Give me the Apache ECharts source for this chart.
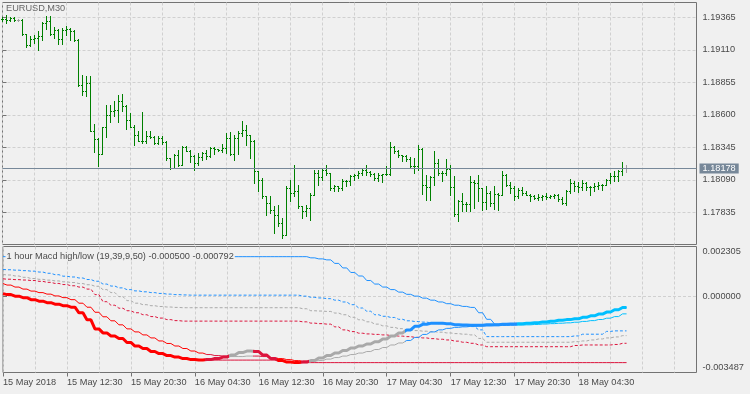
<!DOCTYPE html>
<html><head><meta charset="utf-8">
<script src="https://cdn.jsdelivr.net/npm/echarts@6/dist/echarts.min.js"></script>
<style>html,body{margin:0;padding:0;background:#f0f0f0;}#c{width:750px;height:394px;}</style>
</head><body><div id="c"></div>
<script>
const symbolName = 'EURUSD,M30';
const indicatorName = '1 hour Macd high/low (19,39,9,50)';

const barOpen = [1.19347,1.19349,1.19339,1.19355,1.19344,1.19344,1.19231,1.19142,1.19195,1.19200,
 1.19213,1.19318,1.19331,1.19231,1.19266,1.19190,1.19266,1.19273,1.19258,1.19187,
 1.18833,1.18786,1.18846,1.18472,1.18409,1.18291,1.18498,1.18597,1.18624,1.18637,
 1.18702,1.18668,1.18558,1.18500,1.18440,1.18393,1.18388,1.18427,1.18425,1.18375,
 1.18414,1.18383,1.18257,1.18178,1.18278,1.18204,1.18346,1.18314,1.18270,1.18218,
 1.18262,1.18296,1.18270,1.18335,1.18328,1.18320,1.18335,1.18414,1.18288,1.18414,
 1.18453,1.18480,1.18435,1.18393,1.18152,1.18087,1.17956,1.17903,1.17851,1.17811,
 1.17746,1.17654,1.18021,1.17982,1.17995,1.17877,1.17838,1.17864,1.17969,1.18139,
 1.18105,1.18165,1.18139,1.18021,1.18034,1.18021,1.18079,1.18073,1.18113,1.18126,
 1.18139,1.18165,1.18147,1.18131,1.18100,1.18121,1.18131,1.18128,1.18341,1.18309,
 1.18278,1.18275,1.18252,1.18191,1.18195,1.18330,1.18047,1.18026,1.18105,1.18218,
 1.18139,1.18142,1.18173,1.18026,1.17817,1.17916,1.17895,1.17898,1.18068,1.18060,
 1.18021,1.17911,1.17982,1.17903,1.17974,1.17969,1.18126,1.18047,1.18021,1.17956,
 1.18008,1.17982,1.17969,1.17956,1.17942,1.17948,1.17956,1.17948,1.17956,1.17969,
 1.17937,1.17903,1.17995,1.18060,1.18034,1.18026,1.18060,1.18026,1.18029,1.18034,
 1.18047,1.18044,1.18087,1.18113,1.18116,1.18157,1.18178];
const barHigh = [1.19368,1.19378,1.19368,1.19362,1.19347,1.19346,1.19235,1.19213,1.19221,1.19258,
 1.19326,1.19373,1.19376,1.19284,1.19270,1.19279,1.19292,1.19279,1.19260,1.19190,
 1.18912,1.18904,1.18904,1.18524,1.18414,1.18498,1.18676,1.18671,1.18707,1.18749,
 1.18760,1.18676,1.18611,1.18519,1.18472,1.18618,1.18472,1.18472,1.18427,1.18427,
 1.18427,1.18393,1.18260,1.18288,1.18322,1.18351,1.18350,1.18317,1.18278,1.18299,
 1.18307,1.18320,1.18343,1.18340,1.18330,1.18367,1.18453,1.18459,1.18440,1.18466,
 1.18550,1.18519,1.18440,1.18395,1.18155,1.18100,1.17960,1.17956,1.17877,1.17890,
 1.17785,1.18034,1.18087,1.18204,1.18047,1.17880,1.17890,1.17982,1.18165,1.18165,
 1.18178,1.18204,1.18142,1.18047,1.18040,1.18094,1.18087,1.18126,1.18131,1.18152,
 1.18173,1.18204,1.18152,1.18139,1.18139,1.18131,1.18191,1.18380,1.18349,1.18322,
 1.18283,1.18282,1.18262,1.18257,1.18362,1.18335,1.18126,1.18113,1.18314,1.18252,
 1.18157,1.18252,1.18199,1.18113,1.17929,1.17982,1.17908,1.18113,1.18087,1.18121,
 1.18025,1.18034,1.17995,1.18034,1.17982,1.18152,1.18130,1.18068,1.18034,1.18021,
 1.18026,1.17995,1.17974,1.17963,1.17974,1.17963,1.17982,1.17963,1.17974,1.17974,
 1.17948,1.18008,1.18092,1.18079,1.18068,1.18081,1.18065,1.18034,1.18060,1.18068,
 1.18050,1.18094,1.18139,1.18157,1.18160,1.18225,1.18199];
const barLow = [1.19331,1.19318,1.19331,1.19334,1.19331,1.19226,1.19127,1.19135,1.19161,1.19103,
 1.19187,1.19273,1.19226,1.19200,1.19153,1.19153,1.19226,1.19187,1.19179,1.18820,
 1.18755,1.18742,1.18466,1.18301,1.18197,1.18288,1.18419,1.18537,1.18584,1.18540,
 1.18629,1.18487,1.18498,1.18362,1.18388,1.18375,1.18375,1.18414,1.18367,1.18370,
 1.18367,1.18244,1.18170,1.18175,1.18191,1.18200,1.18309,1.18223,1.18160,1.18204,
 1.18244,1.18252,1.18265,1.18291,1.18309,1.18304,1.18296,1.18278,1.18244,1.18291,
 1.18427,1.18362,1.18257,1.18060,1.17995,1.17942,1.17811,1.17825,1.17667,1.17720,
 1.17628,1.17650,1.17916,1.17956,1.17864,1.17785,1.17798,1.17772,1.17963,1.18047,
 1.18087,1.18126,1.18008,1.17995,1.18000,1.18008,1.18034,1.18047,1.18087,1.18100,
 1.18121,1.18126,1.18113,1.18081,1.18079,1.18068,1.18121,1.18121,1.18296,1.18262,
 1.18231,1.18236,1.18178,1.18139,1.18165,1.17974,1.17929,1.17924,1.18042,1.18121,
 1.18073,1.18121,1.17969,1.17798,1.17759,1.17843,1.17838,1.17838,1.17864,1.17916,
 1.17851,1.17859,1.17877,1.17859,1.17851,1.17963,1.18034,1.17982,1.17929,1.17942,
 1.17963,1.17963,1.17921,1.17937,1.17929,1.17929,1.17937,1.17945,1.17942,1.17921,
 1.17895,1.17890,1.17982,1.17995,1.17990,1.18003,1.18008,1.17969,1.18000,1.18013,
 1.18008,1.18042,1.18060,1.18073,1.18073,1.18126,1.18147];
const barClose = [1.19349,1.19339,1.19355,1.19344,1.19344,1.19231,1.19142,1.19195,1.19200,1.19213,
 1.19318,1.19331,1.19231,1.19266,1.19190,1.19266,1.19273,1.19258,1.19187,1.18833,
 1.18786,1.18846,1.18472,1.18409,1.18291,1.18498,1.18597,1.18624,1.18637,1.18702,
 1.18668,1.18558,1.18500,1.18440,1.18393,1.18388,1.18427,1.18425,1.18375,1.18414,
 1.18383,1.18257,1.18178,1.18278,1.18204,1.18346,1.18314,1.18270,1.18218,1.18262,
 1.18296,1.18270,1.18335,1.18328,1.18320,1.18335,1.18414,1.18288,1.18414,1.18453,
 1.18480,1.18435,1.18393,1.18152,1.18087,1.17956,1.17903,1.17851,1.17811,1.17746,
 1.17654,1.18021,1.17982,1.17995,1.17877,1.17838,1.17864,1.17969,1.18139,1.18105,
 1.18165,1.18139,1.18021,1.18034,1.18021,1.18079,1.18073,1.18113,1.18126,1.18139,
 1.18165,1.18147,1.18131,1.18100,1.18121,1.18131,1.18128,1.18341,1.18309,1.18278,
 1.18275,1.18252,1.18191,1.18195,1.18330,1.18047,1.18026,1.18105,1.18218,1.18139,
 1.18142,1.18173,1.18026,1.17817,1.17916,1.17895,1.17898,1.18068,1.18060,1.18021,
 1.17911,1.17982,1.17903,1.17974,1.17969,1.18126,1.18047,1.18021,1.17956,1.18008,
 1.17982,1.17969,1.17956,1.17942,1.17948,1.17956,1.17948,1.17956,1.17969,1.17937,
 1.17903,1.17995,1.18060,1.18034,1.18026,1.18060,1.18026,1.18029,1.18034,1.18047,
 1.18044,1.18087,1.18113,1.18116,1.18157,1.18178,1.18178];

const lastPrice = 1.18178;
const priceTicks = [1.17835, 1.18090, 1.18345, 1.18600, 1.18855, 1.19110, 1.19365];
const timeLabels = ['15 May 2018','15 May 12:30','15 May 20:30','16 May 04:30','16 May 12:30',
  '16 May 20:30','17 May 04:30','17 May 12:30','17 May 20:30','18 May 04:30'];
const macdTicks = [-0.003487, 0, 0.002305];

// 1-hour indicator values (one per hour, each spans two M30 bars)
const macdHourly = [139e-6,93e-6,23e-6,-46e-6,-139e-6,-208e-6,-278e-6,-347e-6,-417e-6,-486e-6,
 -741e-6,-1065e-6,-1482e-6,-1667e-6,-1806e-6,-1921e-6,-2107e-6,-2269e-6,-2384e-6,-2523e-6,
 -2616e-6,-2709e-6,-2778e-6,-2847e-6,-2894e-6,-2917e-6,-2894e-6,-2847e-6,-2778e-6,-2685e-6,
 -2570e-6,-2500e-6,-2523e-6,-2685e-6,-2847e-6,-2940e-6,-3010e-6,-3033e-6,-3010e-6,-2940e-6,
 -2824e-6,-2709e-6,-2593e-6,-2477e-6,-2361e-6,-2269e-6,-2176e-6,-2070e-6,-1945e-6,-1806e-6,
 -1667e-6,-1528e-6,-1366e-6,-1273e-6,-1227e-6,-1218e-6,-1250e-6,-1287e-6,-1306e-6,-1320e-6,
 -1310e-6,-1296e-6,-1287e-6,-1273e-6,-1259e-6,-1250e-6,-1227e-6,-1195e-6,-1167e-6,-1134e-6,
 -1088e-6,-1056e-6,-1019e-6,-949e-6,-880e-6,-801e-6,-708e-6,-602e-6,-500e-6];
const signalHourly = [602e-6,532e-6,440e-6,347e-6,255e-6,185e-6,116e-6,32e-6,-46e-6,-139e-6,
 -301e-6,-486e-6,-718e-6,-926e-6,-1111e-6,-1296e-6,-1482e-6,-1621e-6,-1759e-6,-1898e-6,
 -2037e-6,-2153e-6,-2269e-6,-2384e-6,-2500e-6,-2593e-6,-2662e-6,-2709e-6,-2732e-6,-2755e-6,
 -2755e-6,-2732e-6,-2732e-6,-2755e-6,-2801e-6,-2847e-6,-2894e-6,-2940e-6,-2963e-6,-2963e-6,
 -2940e-6,-2871e-6,-2801e-6,-2732e-6,-2662e-6,-2593e-6,-2523e-6,-2431e-6,-2338e-6,-2222e-6,
 -2130e-6,-2014e-6,-1875e-6,-1736e-6,-1621e-6,-1528e-6,-1458e-6,-1412e-6,-1389e-6,-1366e-6,
 -1352e-6,-1343e-6,-1333e-6,-1324e-6,-1315e-6,-1306e-6,-1296e-6,-1278e-6,-1259e-6,-1241e-6,
 -1222e-6,-1204e-6,-1176e-6,-1139e-6,-1102e-6,-1051e-6,-991e-6,-917e-6,-792e-6];
const highestHourly = [1838e-6,1838e-6,1838e-6,1838e-6,1838e-6,1838e-6,1838e-6,1838e-6,1838e-6,1838e-6,
 1838e-6,1838e-6,1838e-6,1838e-6,1838e-6,1838e-6,1838e-6,1838e-6,1838e-6,1838e-6,
 1838e-6,1838e-6,1838e-6,1838e-6,1838e-6,1838e-6,1838e-6,1838e-6,1838e-6,1838e-6,
 1838e-6,1838e-6,1838e-6,1838e-6,1838e-6,1838e-6,1838e-6,1838e-6,1838e-6,1783e-6,
 1736e-6,1690e-6,1528e-6,1320e-6,1111e-6,949e-6,741e-6,579e-6,440e-6,324e-6,
 208e-6,106e-6,23e-6,-69e-6,-162e-6,-245e-6,-324e-6,-394e-6,-449e-6,-495e-6,
 -741e-6,-1042e-6,-1265e-6,-1273e-6,-1259e-6,-1250e-6,-1227e-6,-1195e-6,-1167e-6,-1134e-6,
 -1088e-6,-1056e-6,-1019e-6,-949e-6,-880e-6,-801e-6,-708e-6,-602e-6,-500e-6];
const lowestHourly = [139e-6,93e-6,23e-6,-46e-6,-139e-6,-208e-6,-278e-6,-347e-6,-417e-6,-486e-6,
 -741e-6,-1065e-6,-1482e-6,-1667e-6,-1806e-6,-1921e-6,-2107e-6,-2269e-6,-2384e-6,-2523e-6,
 -2616e-6,-2709e-6,-2778e-6,-2847e-6,-2894e-6,-2917e-6,-2917e-6,-2917e-6,-2917e-6,-2917e-6,
 -2917e-6,-2917e-6,-2917e-6,-2917e-6,-2917e-6,-2917e-6,-3010e-6,-3033e-6,-3033e-6,-3033e-6,
 -3033e-6,-3033e-6,-3033e-6,-3033e-6,-3033e-6,-3033e-6,-3033e-6,-3033e-6,-3033e-6,-3033e-6,
 -3033e-6,-3033e-6,-3033e-6,-3033e-6,-3033e-6,-3033e-6,-3033e-6,-3033e-6,-3033e-6,-3033e-6,
 -3033e-6,-3033e-6,-3033e-6,-3033e-6,-3033e-6,-3033e-6,-3033e-6,-3033e-6,-3033e-6,-3033e-6,
 -3033e-6,-3033e-6,-3033e-6,-3033e-6,-3033e-6,-3033e-6,-3033e-6,-3033e-6,-3033e-6];
const levelUpperHourly = [1250e-6,1236e-6,1218e-6,1195e-6,1171e-6,1130e-6,1074e-6,1009e-6,940e-6,903e-6,
 857e-6,787e-6,708e-6,579e-6,486e-6,403e-6,324e-6,264e-6,222e-6,185e-6,
 148e-6,116e-6,93e-6,79e-6,69e-6,69e-6,69e-6,69e-6,69e-6,69e-6,
 69e-6,69e-6,69e-6,69e-6,69e-6,69e-6,69e-6,69e-6,23e-6,-32e-6,
 -60e-6,-93e-6,-162e-6,-245e-6,-370e-6,-523e-6,-671e-6,-833e-6,-903e-6,-958e-6,
 -1042e-6,-1111e-6,-1144e-6,-1171e-6,-1204e-6,-1241e-6,-1273e-6,-1306e-6,-1343e-6,-1375e-6,
 -1528e-6,-1838e-6,-1838e-6,-1838e-6,-1838e-6,-1838e-6,-1838e-6,-1838e-6,-1838e-6,-1838e-6,
 -1838e-6,-1838e-6,-1806e-6,-1727e-6,-1727e-6,-1727e-6,-1597e-6,-1574e-6,-1574e-6];
const levelMiddleHourly = [1019e-6,995e-6,949e-6,889e-6,833e-6,796e-6,759e-6,722e-6,681e-6,648e-6,
 602e-6,546e-6,477e-6,324e-6,185e-6,0,-185e-6,-301e-6,-370e-6,-417e-6,
 -454e-6,-477e-6,-495e-6,-509e-6,-509e-6,-509e-6,-509e-6,-509e-6,-509e-6,-509e-6,
 -509e-6,-509e-6,-509e-6,-509e-6,-509e-6,-509e-6,-509e-6,-509e-6,-556e-6,-648e-6,
 -662e-6,-681e-6,-755e-6,-833e-6,-949e-6,-1065e-6,-1158e-6,-1264e-6,-1343e-6,-1412e-6,
 -1472e-6,-1528e-6,-1560e-6,-1588e-6,-1611e-6,-1634e-6,-1667e-6,-1699e-6,-1727e-6,-1759e-6,
 -1921e-6,-2097e-6,-2097e-6,-2097e-6,-2097e-6,-2097e-6,-2097e-6,-2097e-6,-2097e-6,-2097e-6,
 -2097e-6,-2097e-6,-2070e-6,-2037e-6,-1991e-6,-1945e-6,-1898e-6,-1852e-6,-1792e-6];
const levelLowerHourly = [820e-6,801e-6,782e-6,764e-6,741e-6,704e-6,657e-6,607e-6,556e-6,500e-6,
 440e-6,347e-6,93e-6,-232e-6,-394e-6,-532e-6,-648e-6,-741e-6,-833e-6,-917e-6,
 -986e-6,-1056e-6,-1102e-6,-1125e-6,-1125e-6,-1125e-6,-1125e-6,-1125e-6,-1125e-6,-1125e-6,
 -1125e-6,-1125e-6,-1125e-6,-1125e-6,-1125e-6,-1125e-6,-1125e-6,-1125e-6,-1158e-6,-1218e-6,
 -1241e-6,-1264e-6,-1389e-6,-1528e-6,-1607e-6,-1681e-6,-1713e-6,-1736e-6,-1759e-6,-1787e-6,
 -1815e-6,-1838e-6,-1871e-6,-1898e-6,-1931e-6,-1958e-6,-1991e-6,-2046e-6,-2097e-6,-2144e-6,
 -2222e-6,-2301e-6,-2301e-6,-2301e-6,-2301e-6,-2301e-6,-2301e-6,-2301e-6,-2301e-6,-2301e-6,
 -2301e-6,-2301e-6,-2246e-6,-2222e-6,-2222e-6,-2222e-6,-2222e-6,-2199e-6,-2144e-6];
// MACD colour state per hour
const macdState = [0,0,0,0,0,0,0,0,0,0, 0,0,0,0,0,0,0,0,0,0, 0,0,0,0,0,0,1,1,1,2,
 2,2,1,1,1,0,0,0,1,2, 2,2,2,2,2,2,2,2,2,2, 2,3,3,3,3,3,3,3,3,3,
 3,3,3,3,3,4,4,4,4,4, 4,4,4,4,4,4,4,4,4];

const FONT = '"Liberation Sans", Arial, sans-serif';
const FS = 9.2;
const TXT = '#4a4a4a';
const FRAME = '#737373';
const GRIDC = '#d0d0d0';
const stateColors = ['#ff0000', '#dc143c', '#a9a9a9', '#1e90ff', '#00bfff'];
const N = barOpen.length;
const X_MAX = 173.5;
const P_MAX = 1.194829, P_MIN = 1.175812;

const hourOf = i => (i + 1) >> 1;
const expand = arr => barOpen.map((_, i) => [i, arr[hourOf(i)]]);

const gridLinePos = []; for (let v = 0; v <= 168; v += 8) gridLinePos.push(v);
const labelPos = timeLabels.map((_, k) => k * 16);

const pieces = [];
let runStart = 0;
for (let i = 1; i <= N; i++) {
  if (i === N || macdState[hourOf(i)] !== macdState[hourOf(runStart)]) {
    pieces.push({ gte: runStart === 0 ? -100 : runStart - 0.5, lt: i === N ? 1000 : i - 0.5,
      color: stateColors[macdState[hourOf(runStart)]] });
    runStart = i;
  }
}

const legendText = indicatorName + ' ' + macdHourly[macdHourly.length - 1].toFixed(6) + ' ' +
  signalHourly[signalHourly.length - 1].toFixed(6);

const xBase = (gi) => ({
  gridIndex: gi, type: 'value', min: 0, max: X_MAX,
  axisLine: { show: false },
  axisTick: { show: false, customValues: gridLinePos },
  axisLabel: { show: false },
  splitLine: { show: true, lineStyle: { color: GRIDC, type: [3, 2], width: 1 } }
});

const lineSeries = (arr, color, width, dashed, z) => {
  const ls = { width: width, type: dashed ? [3, 2] : 'solid' };
  if (color) ls.color = color;
  return {
    type: 'line', xAxisIndex: 1, yAxisIndex: 1, data: expand(arr),
    showSymbol: false, symbol: 'none', silent: true, z: z,
    lineStyle: ls, clip: true
  };
};

const chart = echarts.init(document.getElementById('c'), null, { renderer: 'canvas' });
const macdMax = macdTicks[2], macdMin = macdTicks[0];
const option = {
  animation: false,
  backgroundColor: '#f0f0f0',
  textStyle: { fontFamily: FONT },
  title: [
    { text: symbolName, left: 6, top: 4, padding: 0,
      textStyle: { fontSize: FS, fontWeight: 'normal', color: '#666666', fontFamily: FONT } },
    { text: legendText, left: 5.5, top: 251.5, padding: [0, 1, 0, 1], backgroundColor: '#f0f0f0',
      textStyle: { fontSize: FS, fontWeight: 'normal', color: TXT, fontFamily: FONT } }
  ],
  grid: [
    { left: 2.5, top: 2.5, width: 694, height: 242, show: true, borderColor: FRAME, borderWidth: 1, backgroundColor: 'transparent' },
    { left: 2.5, top: 246.5, width: 694, height: 126, show: true, borderColor: FRAME, borderWidth: 1, backgroundColor: 'transparent' }
  ],
  xAxis: [
    xBase(0),
    xBase(1),
    { gridIndex: 1, type: 'value', min: 0, max: X_MAX, position: 'bottom',
      axisLine: { show: false },
      axisTick: { show: true, customValues: labelPos, length: 4, lineStyle: { color: FRAME } },
      axisLabel: { show: true, customValues: labelPos, formatter: v => timeLabels[Math.round(v / 16)],
        align: 'left', margin: 5, color: TXT, fontSize: FS, fontFamily: FONT },
      splitLine: { show: false } }
  ],
  yAxis: [
    { gridIndex: 0, type: 'value', position: 'right', min: P_MIN, max: P_MAX,
      axisLine: { show: false },
      axisTick: { show: true, customValues: priceTicks, length: 4, lineStyle: { color: FRAME } },
      axisLabel: { customValues: priceTicks, formatter: v => v.toFixed(5), margin: 6,
        color: TXT, fontSize: FS, fontFamily: FONT },
      splitLine: { show: true, lineStyle: { color: GRIDC, type: [3, 2], width: 1 } } },
    { gridIndex: 1, type: 'value', position: 'right', min: macdMin, max: macdMax,
      axisLine: { show: false },
      axisTick: { show: true, customValues: [0], length: 4, lineStyle: { color: FRAME } },
      axisLabel: { customValues: macdTicks, margin: 6, color: TXT, fontSize: FS, fontFamily: FONT,
        formatter: v => {
          const s = v.toFixed(6);
          if (Math.abs(v - macdMax) < 1e-9) return '{t|' + s + '}';
          if (Math.abs(v - macdMin) < 1e-9) return '{b|' + s + '}';
          return s;
        },
        rich: {
          t: { padding: [10, 0, 0, 0], color: TXT, fontSize: FS, fontFamily: FONT },
          b: { padding: [0, 0, 10, 0], color: TXT, fontSize: FS, fontFamily: FONT }
        } },
      splitLine: { show: true, lineStyle: { color: GRIDC, type: [3, 2], width: 1 } } }
  ],
  visualMap: [{ type: 'piecewise', show: false, dimension: 0, seriesIndex: [6, 7], pieces: pieces }],
  series: [
    { type: 'custom', xAxisIndex: 0, yAxisIndex: 0, silent: true, z: 3,
      data: barOpen.map((o, i) => [i, o, barHigh[i], barLow[i], barClose[i]]),
      encode: { x: 0, y: [1, 2, 3, 4] },
      renderItem: (params, api) => {
        const i = api.value(0);
        const pO = api.coord([i, api.value(1)]);
        const pH = api.coord([i, api.value(2)]);
        const pL = api.coord([i, api.value(3)]);
        const pC = api.coord([i, api.value(4)]);
        const col = Math.floor(pO[0]);
        const color = api.value(1) === api.value(4) ? '#a0a0a0' : '#008000';
        const yH = Math.floor(pH[1]), yL = Math.floor(pL[1]);
        return { type: 'group', children: [
          { type: 'rect', shape: { x: col, y: yH, width: 1, height: yL - yH + 1 }, style: { fill: color } },
          { type: 'rect', shape: { x: col - 1, y: Math.floor(pO[1]), width: 1, height: 1 }, style: { fill: color } },
          { type: 'rect', shape: { x: col + 1, y: Math.floor(pC[1]), width: 1, height: 1 }, style: { fill: color } }
        ] };
      } },
    lineSeries(levelUpperHourly, '#1e90ff', 1, true, 2),
    lineSeries(levelMiddleHourly, '#a9a9a9', 1, true, 2),
    lineSeries(levelLowerHourly, '#dc143c', 1, true, 2),
    lineSeries(highestHourly, '#1e90ff', 1, false, 2),
    lineSeries(lowestHourly, '#dc143c', 1, false, 2),
    lineSeries(signalHourly, null, 1, false, 3),
    lineSeries(macdHourly, null, 3, false, 4),
    { type: 'line', xAxisIndex: 0, yAxisIndex: 0, silent: true, z: 2,
      data: barClose.map((c, i) => [i, c]), showSymbol: false, symbol: 'none',
      lineStyle: { opacity: 0 },
      markLine: { silent: true, symbol: ['none', 'none'], animation: false, precision: 5,
        data: [{ yAxis: lastPrice }],
        lineStyle: { color: '#778899', width: 1, type: 'solid' },
        label: { show: true, position: 'end', distance: 3, formatter: lastPrice.toFixed(5),
          backgroundColor: '#778899', color: '#ffffff', padding: [1, 3, 0, 3],
          fontSize: FS, fontFamily: FONT } } }
  ]
};
chart.setOption(option);
</script>
</body></html>
